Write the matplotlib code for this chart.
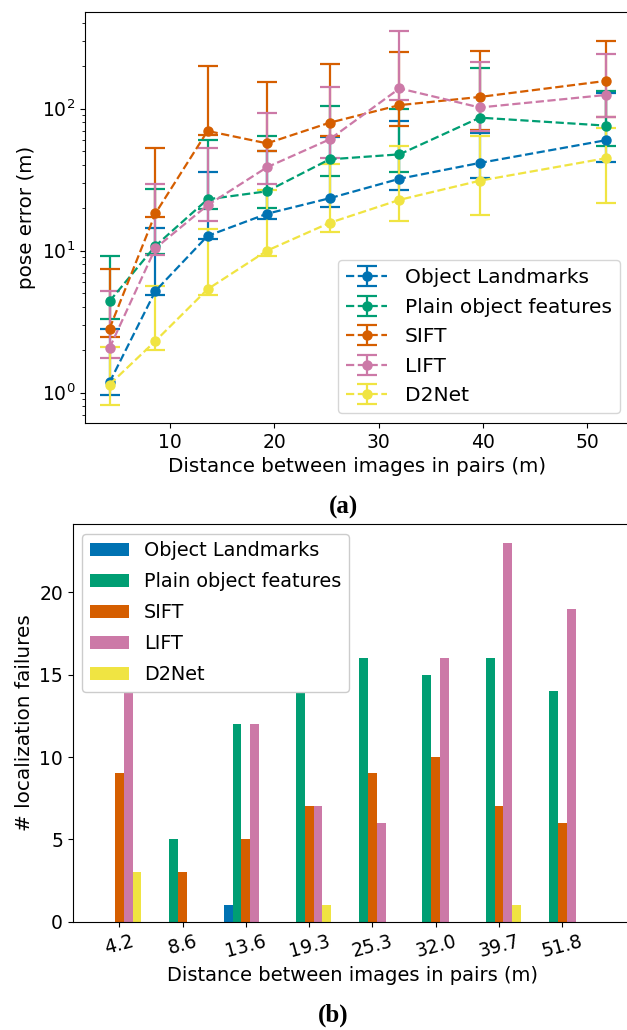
import numpy as np
import matplotlib
matplotlib.use("Agg")
import matplotlib.pyplot as plt

# ---------------- data ----------------
distances = [4.2, 8.6, 13.6, 19.3, 25.3, 32.0, 39.7, 51.8]
tick_labels = ["4.2", "8.6", "13.6", "19.3", "25.3", "32.0", "39.7", "51.8"]
methods = ["Object Landmarks", "Plain object features", "SIFT", "LIFT", "D2Net"]

# pose error (m): centre / lower / upper of error bar
ol_mid = [1.18, 5.2, 12.7, 18.2, 23.4, 32.1, 41.5, 60.0]
ol_low = [0.97, 4.87, 12.0, 16.8, 20.3, 26.6, 32.7, 42.0]
ol_up = [2.82, 14.4, 35.8, 50.0, 62.9, 82.3, 67.6, 130.0]

pof_mid = [4.4, 10.8, 23.0, 26.2, 44.0, 47.7, 86.5, 76.0]
pof_low = [3.3, 9.4, 19.5, 20.1, 33.6, 36.0, 70.0, 55.0]
pof_up = [9.2, 27.1, 60.5, 64.2, 105.0, 100.0, 195.0, 133.0]

sift_mid = [2.82, 18.3, 69.7, 57.0, 79.7, 106.0, 121.0, 157.0]
sift_low = [2.48, 17.3, 65.0, 50.5, 64.0, 75.9, 70.6, 87.0]
sift_up = [7.4, 52.9, 200.0, 153.0, 205.0, 252.0, 255.0, 301.0]

lift_mid = [2.06, 10.4, 20.9, 38.7, 60.8, 139.0, 102.0, 125.0]
lift_low = [1.76, 9.3, 16.2, 29.6, 45.0, 115.0, 70.0, 87.0]
lift_up = [5.2, 29.4, 53.2, 93.8, 142.0, 352.0, 213.0, 244.0]

d2_mid = [1.14, 2.31, 5.35, 10.0, 15.7, 22.8, 31.1, 44.8]
d2_low = [0.82, 2.0, 4.9, 9.2, 13.6, 16.2, 17.9, 21.8]
d2_up = [2.1, 5.6, 14.3, 26.9, 40.8, 54.5, 64.3, 72.7]

# number of localization failures
fail_ol = [0, 0, 1, 0, 0, 0, 0, 0]
fail_pof = [0, 5, 12, 15, 16, 15, 16, 14]
fail_sift = [9, 3, 5, 7, 9, 10, 7, 6]
fail_lift = [15, 0, 12, 7, 6, 16, 23, 19]
fail_d2 = [3, 0, 0, 1, 0, 0, 1, 0]

colors = ["#0072b2", "#009e73", "#d55e00", "#cc79a7", "#f0e442"]

# ---------------- figure ----------------
W, H = 627, 1030
fig = plt.figure(figsize=(W / 100, H / 100), dpi=100)

TICK_FS = 13.5

# ---- (a) pose error ----
ax1 = fig.add_axes([85 / W, 1 - 423.3 / H, (630 - 85) / W, (423.3 - 12) / H])
series = [
    (ol_mid, ol_low, ol_up),
    (pof_mid, pof_low, pof_up),
    (sift_mid, sift_low, sift_up),
    (lift_mid, lift_low, lift_up),
    (d2_mid, d2_low, d2_up),
]
for (mid, low, up), name, c in zip(series, methods, colors):
    mid = np.array(mid)
    yerr = np.vstack([mid - np.array(low), np.array(up) - mid])
    ax1.errorbar(distances, mid, yerr=yerr, fmt="o--", color=c, capsize=7,
                 markersize=6.5, linewidth=1.6, elinewidth=1.6, capthick=1.6,
                 label=name)
ax1.set_yscale("log")
ax1.set_ylim(0.608, 480)
ax1.set_xlim(1.85, 54.1)
ax1.set_xticks([10, 20, 30, 40, 50])
ax1.tick_params(labelsize=TICK_FS)
ax1.set_xlabel("Distance between images in pairs (m)", fontsize=14.3, labelpad=3.5)
ax1.set_ylabel("pose error (m)", fontsize=14.3)
ax1.legend(loc="lower right", fontsize=14.5, borderaxespad=0.5,
           labelspacing=0.52, handletextpad=0.9)
fig.text(343 / W, 1 - 507 / H, "(a)", ha="center", va="center",
         fontsize=18, fontweight="bold", family="Liberation Serif")

# ---- (b) localization failures ----
ax2 = fig.add_axes([72.7 / W, 1 - 921.7 / H, (632 - 72.7) / W, (921.7 - 524) / H])
x = np.arange(len(distances))
bw = 0.14
fails = [fail_ol, fail_pof, fail_sift, fail_lift, fail_d2]
for i, (vals, name, c) in enumerate(zip(fails, methods, colors)):
    ax2.bar(x + (i - 2) * bw, vals, width=bw, color=c, label=name)
ax2.set_xticks(x)
ax2.set_xticklabels(tick_labels, rotation=15)
ax2.set_xlim(-0.735, 8.1)
ax2.set_ylim(0, 24.15)
ax2.set_yticks([0, 5, 10, 15, 20])
ax2.tick_params(labelsize=TICK_FS)
ax2.set_xlabel("Distance between images in pairs (m)", fontsize=14)
ax2.set_ylabel("# localization failures", fontsize=14.4)
ax2.legend(loc="upper left", fontsize=13.9, borderaxespad=0.5,
           labelspacing=0.62, handletextpad=0.8, framealpha=1.0)
fig.text(333 / W, 1 - 1015 / H, "(b)", ha="center", va="center",
         fontsize=18, fontweight="bold", family="Liberation Serif")

fig.savefig("out.png", dpi=100)
